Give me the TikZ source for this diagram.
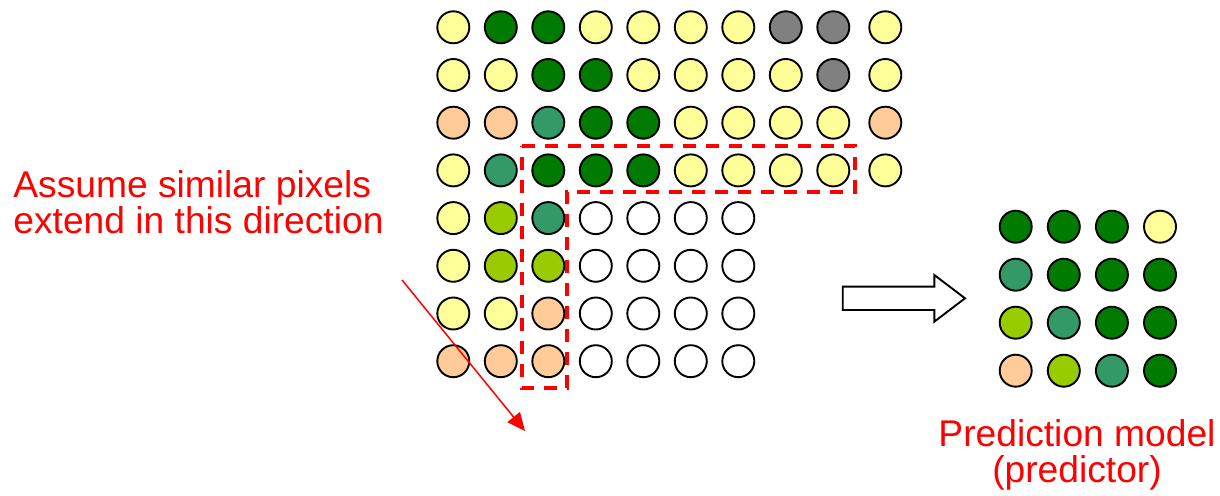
\documentclass[tikz,border=0pt]{standalone}
\usepackage{fontspec}
\setmainfont{Liberation Sans}
\usetikzlibrary{arrows.meta}

\definecolor{cY}{HTML}{FFFF99}
\definecolor{cG}{HTML}{007A00}
\definecolor{cT}{HTML}{339966}
\definecolor{cL}{HTML}{99CC00}
\definecolor{cO}{HTML}{FFCC99}
\definecolor{cK}{HTML}{808080}
\definecolor{cW}{HTML}{FFFFFF}

\begin{document}
\begin{tikzpicture}[
  x=0.5pt, y=-0.5pt,
  pix/.style={draw, circle, line width=0.95pt, minimum size=16pt, inner sep=0pt},
  note/.style={text=red, font=\fontsize{18.6pt}{18pt}\selectfont, inner sep=0pt},
  region/.style={draw=red, line width=2pt, dash pattern=on 6.5pt off 5pt},
  dirarrow/.style={red, line width=0.75pt, -{Triangle[length=9pt,width=8pt]}},
  blockarrow/.style={draw, fill=white, line width=0.95pt}
]
\useasboundingbox (0,0) rectangle (1220,496);

% image pixels
\foreach \r/\list in {1/{Y,G,G,Y,Y,Y,Y,K,K,Y},
                      2/{Y,Y,G,G,Y,Y,Y,Y,K,Y},
                      3/{O,O,T,G,G,Y,Y,Y,Y,O},
                      4/{Y,T,G,G,G,Y,Y,Y,Y,Y},
                      5/{Y,L,T,W,W,W,W},
                      6/{Y,L,L,W,W,W,W},
                      7/{Y,Y,O,W,W,W,W},
                      8/{O,O,O,W,W,W,W}}
  \foreach \c [count=\i] in \list
    \node[pix, fill=c\c] (px-\r-\i) at ({453.3+47.5*(\i-1)+4.5*(\i==10)}, {27.3+47.7*(\r-1)}) {};

% predictor pixels
\foreach \r/\list in {1/{G,G,G,Y},
                      2/{T,G,G,G},
                      3/{L,T,G,G},
                      4/{O,L,T,G}}
  \foreach \c [count=\i] in \list
    \node[pix, fill=c\c] (pr-\r-\i) at ({1015.7+48.1*(\i-1)}, {226.7+48*(\r-1)}) {};

% neighbourhood
\draw[region] (521.7,145.7) -- (855,145.7) -- (855,191.7) -- (567,191.7)
  -- (567,388.3) -- (521.7,388.3) -- cycle;

\node[note, anchor=west, align=left] (assume) at (13,202)
  {Assume similar pixels\\extend in this direction};
\coordinate (dirstart) at (402,280);
\coordinate (dirend) at (525,431);
\draw[dirarrow] (dirstart) -- (dirend);

\draw[blockarrow] (842.7,286.7) -- (934.3,286.7) -- (934.3,275) -- (965,298.3)
  -- (934.3,321.7) -- (934.3,310) -- (842.7,310) -- cycle;

\node[note, align=center] (predictor) at (1077,455) {Prediction model\\(predictor)};
\end{tikzpicture}
\end{document}
